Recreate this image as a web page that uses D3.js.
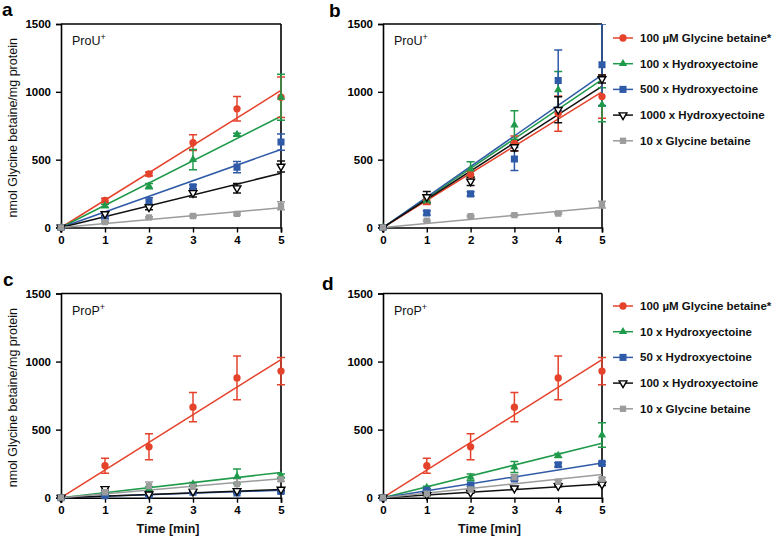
<!DOCTYPE html>
<html><head><meta charset="utf-8">
<script src="https://cdn.jsdelivr.net/npm/d3@7"></script>
<style>body{margin:0;background:#fff} svg{display:block;font-family:"Liberation Sans",Arial,sans-serif}</style>
</head><body><svg id="chart" width="776" height="537"></svg>
<script>
const timeMin = [0, 1, 2, 3, 4, 5];
const yTicks = [0, 500, 1000, 1500];
const legendTop = ["100 µM Glycine betaine*", "100 x Hydroxyectoine", "500 x Hydroxyectoine", "1000 x Hydroxyectoine", "10 x Glycine betaine"];
const legendBottom = ["100 µM Glycine betaine*", "10 x Hydroxyectoine", "50 x Hydroxyectoine", "100 x Hydroxyectoine", "10 x Glycine betaine"];
const seriesColors = ["#e5422b", "#1f9a4a", "#2f5aa7", "#111111", "#9c9c9c"];

// Panel a (ProU+)
const aMeans = [
  [0, 200, 395, 625, 875, 960],
  [0, 160, 305, 500, 685, 960],
  [0, 75, 190, 300, 445, 630],
  [0, 100, 150, 255, 290, 450],
  [0, 40, 75, 85, 100, 160]];
const aErrs = [
  [0, 15, 15, 58, 90, 150],
  [0, 12, 20, 75, 10, 170],
  [0, 10, 30, 15, 42, 60],
  [0, 15, 20, 30, 35, 40],
  [0, 5, 5, 5, 8, 30]];
const aSlopes = [202, 164, 115, 80, 29];

// Panel b (ProU+)
const bMeans = [
  [0, 200, 390, 620, 840, 965],
  [0, 200, 430, 755, 1015, 905],
  [0, 108, 248, 505, 1083, 1200],
  [0, 225, 340, 593, 868, 1095],
  [0, 50, 83, 91, 103, 169]];
const bErrs = [
  [0, 30, 25, 55, 130, 160],
  [0, 20, 55, 105, 135, 125],
  [0, 15, 15, 85, 225, 300],
  [0, 40, 30, 30, 95, 30],
  [0, 5, 5, 5, 6, 25]];
const bSlopes = [200, 218, 225, 208, 30];

// Panel c (ProP+)
const cMeans = [
  [0, 235, 374, 665, 880, 930],
  [0, 30, 65, 100, 155, 160],
  [0, 15, 20, 40, 35, 45],
  [0, 65, 25, 45, 50, 60],
  [0, 40, 85, 80, 100, 135]];
const cErrs = [
  [0, 55, 95, 108, 160, 100],
  [0, 8, 15, 12, 55, 15],
  [0, 5, 5, 5, 5, 10],
  [0, 10, 8, 8, 10, 10],
  [0, 8, 30, 20, 40, 15]];
const cSlopes = [203, 37, 11, 12, 28];

// Panel d (ProP+)
const dMeans = [
  [0, 235, 374, 665, 880, 930],
  [0, 75, 150, 225, 310, 460],
  [0, 55, 93, 137, 242, 252],
  [0, 20, 37, 69, 86, 98],
  [0, 30, 60, 150, 118, 137]];
const dErrs = [
  [0, 55, 95, 108, 160, 100],
  [0, 10, 25, 40, 15, 90],
  [0, 5, 8, 10, 15, 10],
  [0, 5, 5, 5, 5, 8],
  [0, 5, 8, 20, 10, 10]];
const dSlopes = [203, 80, 51, 20, 34];

const svg = d3.select("#chart");

const panels = [
  {letter: "a", tag: "ProU", means: aMeans, errs: aErrs, slopes: aSlopes, x0: 61, x1: 281, y0: 227.5, y1: 24, lx: 2, ly: 16, ylabel: true, xlabel: false, legend: null},
  {letter: "b", tag: "ProU", means: bMeans, errs: bErrs, slopes: bSlopes, x0: 383, x1: 602, y0: 227.5, y1: 24, lx: 329, ly: 17, ylabel: false, xlabel: false, legend: {names: legendTop, y: 38}},
  {letter: "c", tag: "ProP", means: cMeans, errs: cErrs, slopes: cSlopes, x0: 61, x1: 281, y0: 497.7, y1: 293.5, lx: 3, ly: 286, ylabel: true, xlabel: true, legend: null},
  {letter: "d", tag: "ProP", means: dMeans, errs: dErrs, slopes: dSlopes, x0: 383, x1: 602, y0: 497.7, y1: 293.5, lx: 322, ly: 290, ylabel: false, xlabel: true, legend: {names: legendBottom, y: 306}}
];

function drawMarker(g, i, x, y) {
  const specs = [
    {type: d3.symbolCircle, size: 42, fill: seriesColors[0], stroke: "none", rot: 0},
    {type: d3.symbolTriangle, size: 30, fill: seriesColors[1], stroke: "none", rot: 0},
    {type: d3.symbolSquare, size: 50, fill: seriesColors[2], stroke: "none", rot: 0},
    {type: d3.symbolTriangle, size: 26, fill: "#fff", stroke: "#000", rot: 180},
    {type: d3.symbolSquare, size: 40, fill: seriesColors[4], stroke: "none", rot: 0}
  ];
  const s = specs[i];
  g.append("path")
    .attr("d", d3.symbol().type(s.type).size(s.size)())
    .attr("transform", `translate(${x},${y}) rotate(${s.rot})`)
    .attr("fill", s.fill)
    .attr("stroke", s.stroke)
    .attr("stroke-width", 1.4);
}

panels.forEach((p, pi) => {
  const x = d3.scaleLinear().domain([0, 5]).range([p.x0, p.x1]);
  const y = d3.scaleLinear().domain([0, 1500]).range([p.y0, p.y1]);
  const g = svg.append("g");

  const clipId = "clip" + pi;
  svg.append("clipPath").attr("id", clipId).append("rect")
    .attr("x", p.x0 - 10).attr("y", p.y1).attr("width", p.x1 - p.x0 + 20).attr("height", p.y0 - p.y1 + 10);

  g.append("line").attr("x1", p.x0).attr("x2", p.x1).attr("y1", p.y1).attr("y2", p.y1).attr("stroke", "#000").attr("stroke-width", 1.6);
  g.append("line").attr("x1", p.x1).attr("x2", p.x1).attr("y1", p.y1).attr("y2", p.y0).attr("stroke", "#000").attr("stroke-width", 1.6);

  const yAxis = g.append("g").attr("transform", `translate(${p.x0},0)`)
    .call(d3.axisLeft(y).tickValues(yTicks).tickSize(5).tickPadding(5).tickFormat(d3.format("d")));
  const xAxis = g.append("g").attr("transform", `translate(0,${p.y0})`)
    .call(d3.axisBottom(x).tickValues(timeMin).tickSize(5).tickPadding(3).tickFormat(d3.format("d")));
  [yAxis, xAxis].forEach(ax => {
    ax.selectAll("path.domain").attr("stroke", "#000").attr("stroke-width", 1.6);
    ax.selectAll(".tick line").attr("stroke", "#000").attr("stroke-width", 1.4);
    ax.selectAll(".tick text").attr("font-size", 11.5).attr("font-weight", "bold").attr("fill", "#000")
      .attr("font-family", "'Liberation Sans', Arial, sans-serif");
  });

  const plot = g.append("g").attr("clip-path", `url(#${clipId})`);

  p.slopes.forEach((s, i) => {
    plot.append("line")
      .attr("x1", x(0)).attr("y1", y(0)).attr("x2", x(5)).attr("y2", y(5 * s))
      .attr("stroke", seriesColors[i]).attr("stroke-width", 1.5);
  });

  p.means.forEach((m, i) => {
    m.forEach((v, t) => {
      const e = p.errs[i][t];
      if (!e) return;
      const cx = x(timeMin[t]);
      const col = seriesColors[i];
      plot.append("line").attr("x1", cx).attr("x2", cx).attr("y1", y(v - e)).attr("y2", y(v + e)).attr("stroke", col).attr("stroke-width", 1.5);
      [v - e, v + e].forEach(ev => {
        plot.append("line").attr("x1", cx - 4).attr("x2", cx + 4).attr("y1", y(ev)).attr("y2", y(ev)).attr("stroke", col).attr("stroke-width", 1.5);
      });
    });
  });

  p.means.forEach((m, i) => {
    m.forEach((v, t) => drawMarker(plot, i, x(timeMin[t]), y(v)));
  });

  svg.append("text").attr("x", p.lx).attr("y", p.ly).text(p.letter)
    .attr("font-size", 19).attr("font-weight", "bold").attr("fill", "#000");

  const tag = svg.append("text").attr("x", p.x0 + 11).attr("y", p.y1 + 21)
    .attr("font-size", 12.5).attr("fill", "#111");
  tag.append("tspan").text(p.tag);
  tag.append("tspan").text("+").attr("font-size", 9).attr("dy", -5);

  if (p.ylabel) {
    const cy = (p.y0 + p.y1) / 2 + 2;
    svg.append("text").attr("transform", `translate(17,${cy}) rotate(-90)`)
      .attr("text-anchor", "middle").attr("font-size", 12.5).attr("fill", "#111")
      .text("nmol Glycine betaine/mg protein");
  }
  if (p.xlabel) {
    svg.append("text").attr("x", (p.x0 + p.x1) / 2 - 3).attr("y", 533)
      .attr("text-anchor", "middle").attr("font-size", 12.5).attr("font-weight", "bold").attr("fill", "#111")
      .text("Time [min]");
  }

  if (p.legend) {
    p.legend.names.forEach((name, i) => {
      const ly = p.legend.y + i * 25.7;
      const lg = svg.append("g");
      lg.append("line").attr("x1", 613).attr("x2", 633).attr("y1", ly).attr("y2", ly)
        .attr("stroke", seriesColors[i]).attr("stroke-width", 1.5);
      drawMarker(lg, i, 623, ly);
      lg.append("text").attr("x", 640).attr("y", ly + 4).attr("font-size", 11.5).attr("font-weight", "bold")
        .attr("fill", "#111").text(name);
    });
  }
});
</script>
</body></html>
